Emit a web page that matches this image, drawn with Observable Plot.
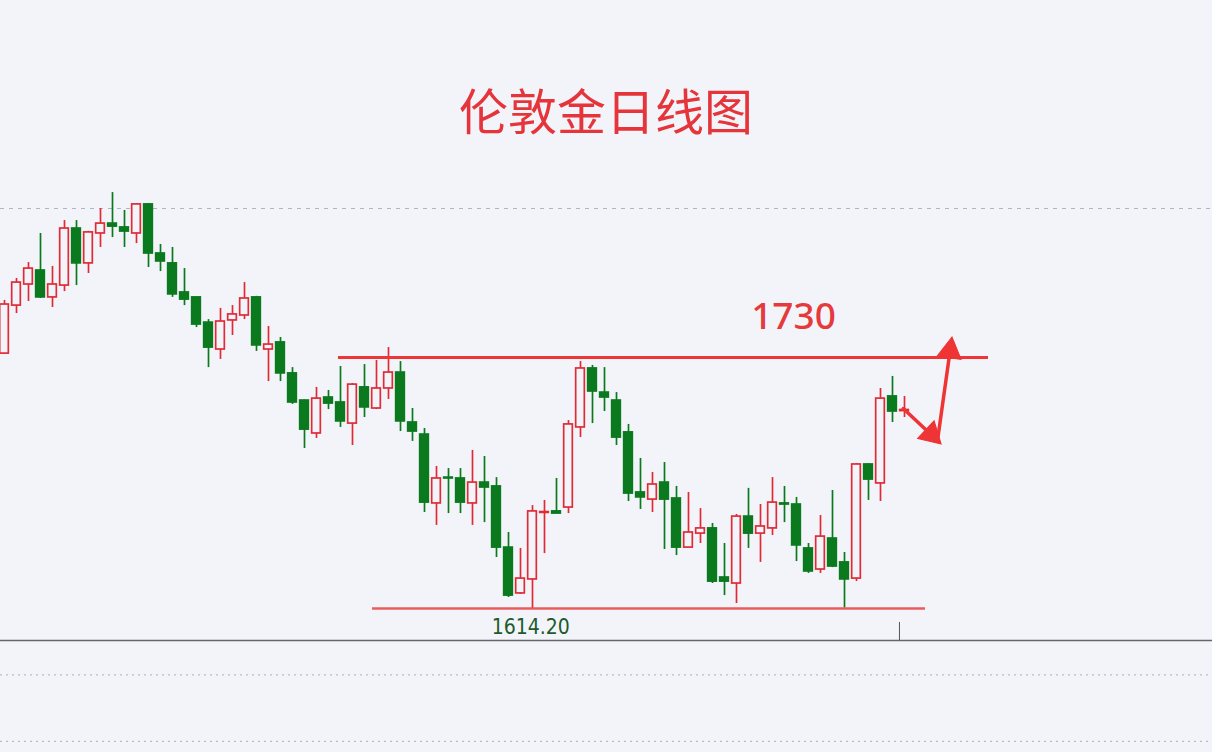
<!DOCTYPE html>
<html><head><meta charset="utf-8">
<script src="https://cdn.jsdelivr.net/npm/d3@7"></script>
<script src="https://cdn.jsdelivr.net/npm/@observablehq/plot@0.6"></script>
<style>
html,body{margin:0;padding:0;background:#f3f4f9;width:1212px;height:752px;overflow:hidden}
#title{height:150px;box-sizing:border-box;padding-top:76px;text-align:center;font-family:"Noto Sans CJK SC","Noto Sans",sans-serif;font-size:49px;font-weight:400;color:#e5353b;line-height:66px;}
#main svg,#sub svg{display:block;background:transparent}
</style></head>
<body>
<div id="title">伦敦金日线图</div>
<div id="main"></div>
<div id="sub"></div>
<script>
// Daily candles (left to right)
const open  = [1732.6,1754.9,1764.7,1771.2,1758.7,1764.2,1790.7,1774.5,1788.4,1793.0,1791.2,1788.4,1801.9,1779.1,1774.5,1761.0,1758.7,1747.0,1734.5,1748.0,1750.3,1758.7,1734.5,1737.8,1723.4,1710.8,1695.5,1712.2,1709.9,1700.1,1716.9,1707.1,1716.4,1723.8,1700.6,1695.0,1663.0,1675.0,1674.6,1663.0,1672.7,1670.9,1642.5,1621.2,1627.7,1658.6,1659.3,1661.1,1698.3,1725.7,1714.5,1710.8,1696.0,1668.1,1664.8,1672.7,1665.3,1642.5,1649.0,1651.4,1628.6,1625.8,1656.9,1649.0,1651.4,1663.0,1662.5,1642.1,1632.3,1646.7,1635.6,1628.1,1681.1,1672.3,1712.7,1705.9];
const high  = [1757.3,1767.5,1774.9,1788.4,1773.1,1794.4,1794.4,1789.4,1800.0,1807.4,1799.1,1802.3,1802.3,1783.3,1781.9,1772.1,1758.7,1748.4,1753.6,1754.9,1765.6,1759.2,1745.2,1740.1,1726.1,1711.0,1716.9,1715.5,1726.6,1718.7,1727.5,1729.4,1735.4,1728.9,1707.1,1697.8,1680.2,1679.2,1679.2,1687.6,1684.8,1675.0,1649.5,1642.1,1662.0,1664.4,1674.6,1701.5,1728.9,1727.1,1726.1,1714.5,1699.7,1683.9,1677.4,1682.0,1670.9,1668.1,1660.6,1653.7,1644.4,1657.9,1670.0,1662.5,1675.0,1670.9,1665.8,1644.4,1657.4,1669.0,1640.2,1681.5,1681.5,1716.4,1722.0,1712.7];
const low   = [1732.6,1751.2,1756.8,1758.2,1754.0,1761.4,1764.2,1769.8,1781.9,1786.5,1781.9,1783.7,1772.6,1770.7,1758.7,1754.9,1744.7,1726.1,1729.9,1741.0,1748.4,1733.6,1719.6,1719.6,1709.0,1688.5,1693.2,1706.6,1698.3,1689.9,1702.9,1706.6,1711.3,1696.4,1691.8,1658.8,1652.8,1658.3,1658.3,1652.8,1654.1,1637.9,1619.3,1620.7,1614.2,1639.7,1658.3,1658.3,1693.6,1700.1,1705.7,1689.9,1663.9,1660.2,1658.8,1641.6,1638.8,1642.3,1644.4,1625.8,1620.2,1616.5,1642.1,1635.6,1648.1,1654.1,1636.0,1630.5,1630.5,1633.2,1614.4,1626.7,1664.4,1663.9,1700.6,1702.9];
const close = [1755.4,1765.6,1772.1,1758.7,1764.7,1790.7,1774.5,1788.9,1793.0,1791.6,1789.3,1801.9,1779.1,1775.4,1760.1,1757.7,1746.1,1735.4,1747.5,1750.8,1758.2,1736.4,1736.8,1723.4,1709.9,1697.3,1711.7,1709.4,1701.1,1718.2,1707.6,1716.4,1723.8,1701.1,1696.4,1663.4,1674.6,1674.6,1663.4,1672.7,1670.4,1642.5,1620.2,1628.1,1659.3,1659.0,1658.3,1699.7,1725.7,1715.0,1712.2,1693.6,1667.6,1665.8,1671.8,1664.8,1642.5,1649.5,1651.4,1626.7,1626.7,1656.9,1649.0,1652.3,1663.4,1662.5,1643.5,1631.4,1647.6,1633.7,1627.7,1681.1,1674.1,1711.7,1705.7,1706.4];

// Annotations (data space: candle index, price)
const gridPrices = [1800];
const resistancePrice = 1730.8, resistanceFrom = 27.83, resistanceTo = 82;
const supportPrice = 1614.2, supportFrom = 30.67, supportTo = 76.75;
const resistanceLabel = "1730", resistanceLabelIdx = 65.75, resistanceLabelPrice = 1749.6;
const supportLabel = "1614.20", supportLabelIdx = 43.85, supportLabelPrice = 1605.3;
const forecastIdx = [74.9, 77.75, 78.9];
const forecastPrice = [1707.1, 1692.2, 1738.0];
const cursorIdx = [74.58], cursorTop = 1607.7, cursorBottom = 1599.3;
const subGrid = [70, 10];

const RED = "#e02b36", GREEN = "#0b7a1f", BG = "#f3f4f9", ARROW = "#ee3434";
const xOpt = {domain: [-4 / 12, 1208 / 12], range: [0, 1212]};
const yOpt = {domain: [1614.2, 1800], range: [458, 58]};
const sx = Plot.scale({x: xOpt}), sy = Plot.scale({y: yOpt});

const candles = open.map((o, i) => ({i, open: o, high: high[i], low: low[i], close: close[i], up: close[i] >= o}));
const HEAD_BACK = 9; // px: triangle centre sits behind the tip
const forecast = forecastIdx.slice(1).map((x, k) => {
  const x1 = forecastIdx[k], y1 = forecastPrice[k], y2 = forecastPrice[k + 1];
  const px1 = sx.apply(x1), py1 = sy.apply(y1), px2 = sx.apply(x), py2 = sy.apply(y2);
  const dx = px2 - px1, dy = py2 - py1, len = Math.hypot(dx, dy);
  const hx = sx.invert(px2 - dx / len * HEAD_BACK), hy = sy.invert(py2 - dy / len * HEAD_BACK);
  const angle = Math.atan2(dy, dx) * 180 / Math.PI + 90; // triangle symbol points up
  return {x1, y1, x2: x, y2, hx, hy, angle};
});

const main = Plot.plot({
  width: 1212, height: 491,
  marginTop: 0, marginRight: 0, marginBottom: 1, marginLeft: 0,
  style: {background: "transparent", overflow: "visible"},
  x: {...xOpt, axis: null},
  y: {...yOpt, axis: null},
  marks: [
    Plot.ruleY(gridPrices, {stroke: "#b0b4bf", strokeDasharray: "4,5", strokeWidth: 1}),
    Plot.frame({anchor: "bottom", stroke: "#666", strokeWidth: 1.5}),
    Plot.ruleX(cursorIdx, {y1: cursorTop, y2: cursorBottom, stroke: "#555", strokeWidth: 1}),
    Plot.ruleX(candles, {x: "i", y1: "low", y2: "high", stroke: d => d.up ? RED : GREEN, strokeWidth: 1.7}),
    Plot.rect(candles, {x1: d => d.i - 0.36, x2: d => d.i + 0.36, y1: "open", y2: "close",
      fill: d => d.up ? BG : GREEN, stroke: d => d.up ? RED : GREEN, strokeWidth: 1.7}),
    Plot.ruleY([resistancePrice], {x1: resistanceFrom, x2: resistanceTo, stroke: "#ef3535", strokeWidth: 3}),
    Plot.ruleY([supportPrice], {x1: supportFrom, x2: supportTo, stroke: "#e84a4a", strokeWidth: 2.5, strokeOpacity: 0.9}),
    Plot.text([resistanceLabel], {x: resistanceLabelIdx, y: resistanceLabelPrice, text: d => d, fill: "#e53a3c",
      fontSize: 37, fontWeight: 500, fontFamily: "Noto Sans, Open Sans, sans-serif"}),
    Plot.text([supportLabel], {x: supportLabelIdx, y: supportLabelPrice, text: d => d, fill: "#1d5a2c",
      fontSize: 21, fontFamily: "DejaVu Sans Condensed, DejaVu Sans, sans-serif"}),
    Plot.link(forecast, {x1: "x1", y1: "y1", x2: "hx", y2: "hy", stroke: ARROW, strokeWidth: 3.5, strokeLinecap: "round"}),
    Plot.dot(forecast, {x: "hx", y: "hy", symbol: "triangle", r: 9, rotate: "angle", fill: ARROW, stroke: ARROW, strokeWidth: 1})
  ]
});
document.getElementById("main").appendChild(main);

const sub = Plot.plot({
  width: 1212, height: 111,
  margin: 0,
  style: {background: "transparent"},
  x: {domain: [0, 1], range: [0, 1212], axis: null},
  y: {domain: [0, 100], range: [111, 0], axis: null},
  marks: [
    Plot.ruleY(subGrid, {stroke: "#b8bcc6", strokeDasharray: "2,4", strokeWidth: 1.2})
  ]
});
document.getElementById("sub").appendChild(sub);
</script>
</body></html>
